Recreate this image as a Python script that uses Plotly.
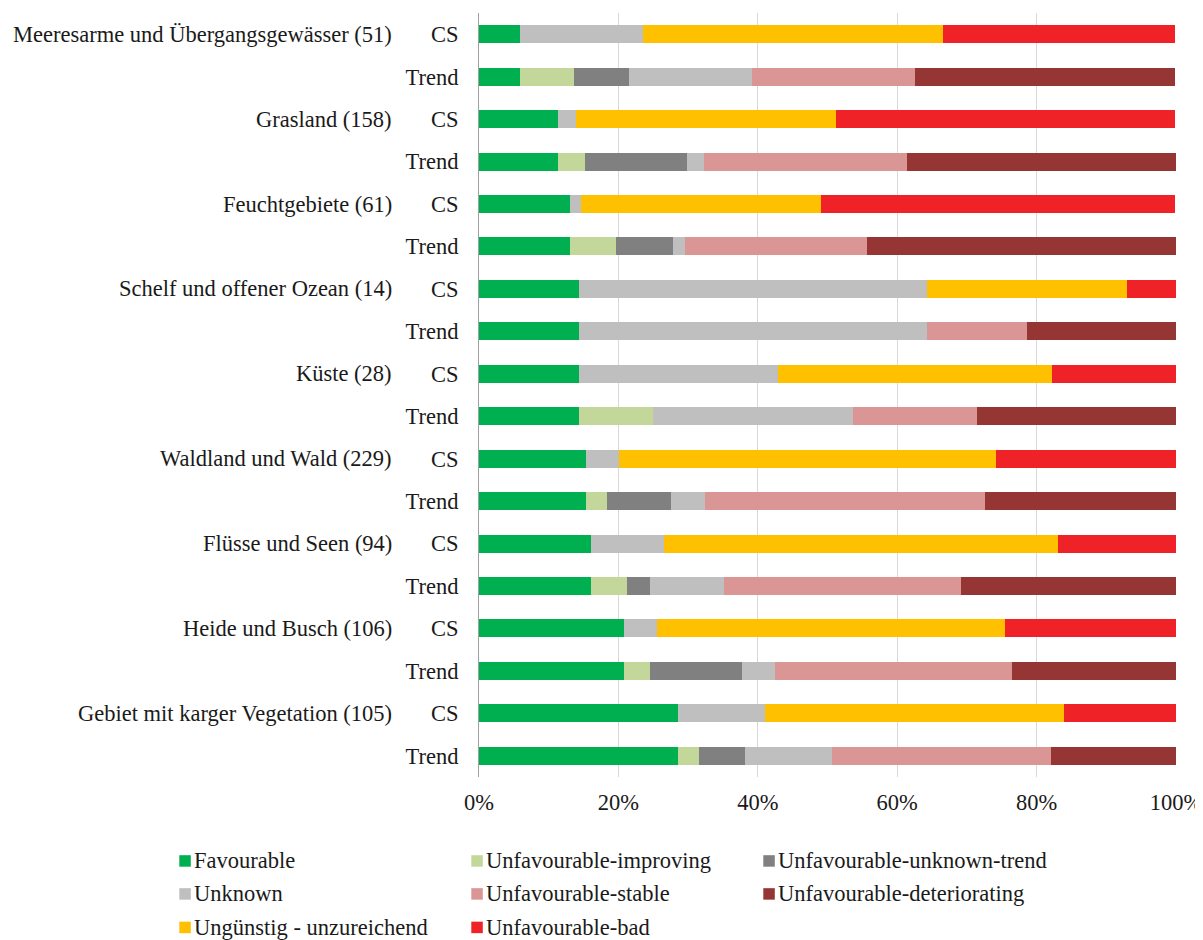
import plotly.graph_objects as go

# Row order top to bottom
habitats = [
    "Meeresarme und Übergangsgewässer (51)",
    "Grasland (158)",
    "Feuchtgebiete (61)",
    "Schelf und offener Ozean (14)",
    "Küste (28)",
    "Waldland und Wald (229)",
    "Flüsse und Seen (94)",
    "Heide und Busch (106)",
    "Gebiet mit karger Vegetation (105)",
]
row_kinds = ["CS", "Trend"]

series_names = [
    "Favourable",
    "Unfavourable-improving",
    "Unfavourable-unknown-trend",
    "Unknown",
    "Unfavourable-stable",
    "Unfavourable-deteriorating",
    "Ungünstig - unzureichend",
    "Unfavourable-bad",
]
colors = ["#00B050", "#C4D79B", "#808080", "#BFBFBF",
          "#DA9694", "#963634", "#FFC000", "#EE2227"]

# Percent values per row (CS, Trend for each habitat, top to bottom)
favourable = [5.9, 5.9, 11.4, 11.4, 13.1, 13.1, 14.3, 14.3, 14.3, 14.3,
              15.3, 15.3, 16.0, 16.0, 20.8, 20.8, 28.6, 28.6]
unf_improving = [0, 7.8, 0, 3.8, 0, 6.6, 0, 0, 0, 10.7,
                 0, 3.1, 0, 5.3, 0, 3.8, 0, 2.9]
unf_unknown_trend = [0, 7.8, 0, 14.6, 0, 8.2, 0, 0, 0, 0,
                     0, 9.2, 0, 3.2, 0, 13.2, 0, 6.7]
unknown = [17.6, 17.6, 2.5, 2.5, 1.6, 1.6, 50.0, 50.0, 28.6, 28.6,
           4.8, 4.8, 10.6, 10.6, 4.7, 4.7, 12.4, 12.4]
unf_stable = [0, 23.5, 0, 29.1, 0, 26.2, 0, 14.3, 0, 17.9,
              0, 40.2, 0, 34.0, 0, 34.0, 0, 31.4]
unf_deteriorating = [0, 37.3, 0, 38.6, 0, 44.3, 0, 21.4, 0, 28.6,
                     0, 27.5, 0, 30.9, 0, 23.6, 0, 18.1]
unguenstig = [43.1, 0, 37.3, 0, 34.4, 0, 28.6, 0, 39.3, 0,
              54.1, 0, 56.4, 0, 50.0, 0, 42.9, 0]
unf_bad = [33.3, 0, 48.7, 0, 50.8, 0, 7.1, 0, 17.9, 0,
           25.8, 0, 17.0, 0, 24.5, 0, 16.2, 0]

series_values = [favourable, unf_improving, unf_unknown_trend, unknown,
                 unf_stable, unf_deteriorating, unguenstig, unf_bad]

x_tickvals = [0, 20, 40, 60, 80, 100]
x_ticktext = ["0%", "20%", "40%", "60%", "80%", "100%"]

FONT = "Liberation Serif"
FS = 22.5
TXT = "#1a1a1a"

# The page body adds an 8px offset; figure is sized to fit the window.
OFF = 8
W, H = 1203 - OFF, 940 - OFF
ML, MR, MT = 479 - OFF, 27, 13 - OFF
MB = H - (777.5 - OFF)
PW, PH = W - ML - MR, H - MT - MB


def px_to_paper_x(px):
    return (px - OFF - ML) / PW


def px_to_paper_y(py):
    return (H - MB - (py - OFF)) / PH


n_rows = len(habitats) * len(row_kinds)
row_pos = list(range(n_rows))
row_labels = [k for _ in habitats for k in row_kinds]

fig = go.Figure()
for i, (name, vals) in enumerate(zip(series_names, series_values)):
    fig.add_trace(go.Bar(
        y=row_pos, x=vals, name=name, orientation="h",
        marker=dict(color=colors[i], line=dict(width=0)),
        hovertemplate="%{x}%<extra>" + name + "</extra>",
    ))

for j, h in enumerate(habitats):
    fig.add_annotation(
        x=0, xref="paper", y=row_pos[2 * j], yref="y",
        text=h, showarrow=False, xanchor="right", xshift=-85,
        font=dict(family=FONT, size=FS, color=TXT),
    )

# Manual legend: 3 columns, row-major order
col_x = [179.3, 471.3, 763.3]
row_y = [861.5, 894.5, 928]
SQ = 11.5
for i, (name, col) in enumerate(zip(series_names, colors)):
    cx = col_x[i % 3]
    cy = row_y[i // 3]
    fig.add_shape(
        type="rect", xref="paper", yref="paper",
        x0=px_to_paper_x(cx), x1=px_to_paper_x(cx + SQ),
        y0=px_to_paper_y(cy + SQ / 2), y1=px_to_paper_y(cy - SQ / 2),
        fillcolor=col, line=dict(width=0),
    )
    fig.add_annotation(
        x=px_to_paper_x(cx + 12.5), xref="paper",
        y=px_to_paper_y(cy), yref="paper",
        text=name, showarrow=False, xanchor="left", yanchor="middle",
        font=dict(family=FONT, size=FS, color=TXT),
    )

fig.update_layout(
    width=W, height=H,
    margin=dict(l=ML, r=MR, t=MT, b=MB),
    barmode="stack", bargap=0.576,
    plot_bgcolor="white", paper_bgcolor="white",
    font=dict(family=FONT, size=FS, color=TXT),
    showlegend=False,
    xaxis=dict(
        range=[0, 100], tickvals=x_tickvals, ticktext=x_ticktext,
        showgrid=True, gridcolor="#D9D9D9", gridwidth=1,
        zeroline=False, showline=False, automargin=False,
        ticks="outside", ticklen=5, tickcolor="rgba(0,0,0,0)",
        tickfont=dict(family=FONT, size=FS, color=TXT),
    ),
    yaxis=dict(
        range=[n_rows - 0.5, -0.5], tickvals=row_pos, ticktext=row_labels,
        showgrid=False, zeroline=False, automargin=False,
        showline=True, linecolor="#A0A0A0", linewidth=1,
        ticks="outside", ticklen=15, tickcolor="rgba(0,0,0,0)",
        tickfont=dict(family=FONT, size=FS, color=TXT),
    ),
)

fig.write_html("out.html")
